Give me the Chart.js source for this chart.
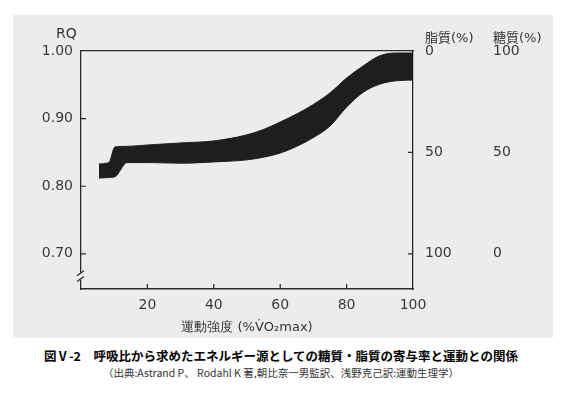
<!DOCTYPE html>
<html>
<head>
<meta charset="utf-8">
<script src="https://cdn.jsdelivr.net/npm/chart.js@4/dist/chart.umd.min.js"></script>
<style>
    body { margin: 0; width: 562px; height: 402px; background: #fff; position: relative; overflow: hidden;
           font-family: "DejaVu Sans", "Noto Sans CJK JP", sans-serif; }
    #panel { position: absolute; left: 13px; top: 15px; width: 540px; height: 323px; background: #ececec; }
    #panel canvas { position: absolute; left: 0; top: 0; }
    .lbl { position: absolute; font-size: 13px; color: #333; white-space: nowrap; line-height: 1; }
    #title { position: absolute; left: 0; width: 562px; top: 350px; text-align: center; line-height: 1;
             font-family: "Noto Sans CJK JP", sans-serif; font-weight: bold; font-size: 12.5px; color: #000; }
    #source { position: absolute; left: 0; width: 562px; top: 368px; text-align: center; line-height: 1;
              font-family: "Noto Sans CJK JP", sans-serif; font-size: 10.5px; color: #333; }
</style>
</head>
<body>
<div id="panel">
    <canvas id="rqChart" width="540" height="323"></canvas>
</div>
<div class="lbl" style="left:56px; top:26px; font-size:14px;">RQ</div>
<div class="lbl" style="left:425px; top:31px;">脂質(%)</div>
<div class="lbl" style="left:493px; top:31px;">糖質(%)</div>
<div id="title">図Ⅴ-2　呼吸比から求めたエネルギー源としての糖質・脂質の寄与率と運動との関係</div>
<div id="source">（出典:Astrand P、 Rodahl K 著,朝比奈一男監訳、浅野克己訳:運動生理学）</div>

<script>
// 運動強度 (%VO2max)
const intensity = [5.4, 8.4, 10.2, 13.9, 20, 30, 40, 50, 55, 60, 65, 70, 75, 80, 85, 90, 95, 100];
// RQ の帯 (上端・下端)
const rqUpper = [0.833, 0.835, 0.858, 0.859, 0.861, 0.864, 0.867, 0.876, 0.884, 0.895, 0.907, 0.921, 0.938, 0.960, 0.978, 0.993, 0.997, 0.997];
const rqLower = [0.812, 0.813, 0.814, 0.835, 0.835, 0.834, 0.836, 0.839, 0.843, 0.849, 0.859, 0.872, 0.889, 0.917, 0.939, 0.951, 0.956, 0.957];

const intensityTicks = [20, 40, 60, 80, 100];
const rqTicks = [0.70, 0.80, 0.90, 1.00];
const fatTicks = [0, 50, 100];
const sugarTicks = [100, 50, 0];

const rqMin = 0.648;
const rqMax = 1.00;
// RQ 1.00 = 脂質 0%, RQ 0.70 = 脂質 100%
const fatOf = rq => (1 - rq) / 0.3 * 100;

const axisColor = '#2a2a2a';
const tickFont = { family: 'DejaVu Sans', size: 14 };
const bandColor = '#1e1e1e';

const setTicks = vals => s => { s.ticks = vals.map(v => ({ value: v })); };

const innerTicks = {
    id: 'innerTicks',
    afterDraw(chart) {
        const { ctx, chartArea: a, scales } = chart;
        ctx.save();
        ctx.strokeStyle = axisColor;
        ctx.lineWidth = 1.2;
        ctx.beginPath();
        intensityTicks.slice(0, -1).forEach(v => {
            const px = scales.x.getPixelForValue(v);
            ctx.moveTo(px, a.bottom);
            ctx.lineTo(px, a.bottom - 5);
        });
        rqTicks.slice(0, -1).forEach(v => {
            const py = scales.y.getPixelForValue(v);
            ctx.moveTo(a.left, py);
            ctx.lineTo(a.left + 5, py);
        });
        [50, 100].forEach(v => {
            const py = scales.y2.getPixelForValue(v);
            ctx.moveTo(a.right, py);
            ctx.lineTo(a.right - 5, py);
        });
        ctx.stroke();

        // 軸の省略記号
        const y1 = scales.y.getPixelForValue(0.672);
        const y2 = scales.y.getPixelForValue(0.662);
        ctx.fillStyle = '#ececec';
        ctx.fillRect(a.left - 2, y1, 4, y2 - y1);
        ctx.beginPath();
        ctx.moveTo(a.left - 4, y1 + 3);
        ctx.lineTo(a.left + 3, y1 - 2);
        ctx.moveTo(a.left - 4, y2 + 2);
        ctx.lineTo(a.left + 3, y2 - 3);
        ctx.stroke();
        ctx.restore();
    }
};

new Chart(document.getElementById('rqChart'), {
    type: 'line',
    data: {
        datasets: [
            {
                label: 'RQ上限',
                data: intensity.map((x, i) => ({ x: x, y: rqUpper[i] })),
                borderColor: bandColor,
                backgroundColor: bandColor,
                borderWidth: 1,
                pointRadius: 0,
                cubicInterpolationMode: 'monotone',
                fill: '+1'
            },
            {
                label: 'RQ下限',
                data: intensity.map((x, i) => ({ x: x, y: rqLower[i] })),
                borderColor: bandColor,
                borderWidth: 1,
                pointRadius: 0,
                cubicInterpolationMode: 'monotone',
                fill: false
            }
        ]
    },
    options: {
        responsive: false,
        animation: false,
        devicePixelRatio: 1,
        layout: { padding: { top: 36, left: 0, right: 0, bottom: 0 } },
        plugins: { legend: { display: false }, tooltip: { enabled: false } },
        scales: {
            x: {
                type: 'linear',
                position: 'bottom',
                min: 0,
                max: 100,
                afterBuildTicks: setTicks(intensityTicks),
                afterFit: s => { s.height = 49; },
                grid: { display: false, drawTicks: false },
                border: { color: axisColor, width: 1.5 },
                ticks: { font: tickFont, color: '#3a3a3a', padding: 8 },
                title: {
                    display: true,
                    text: '運動強度 (%V̇O₂max)',
                    font: { family: 'DejaVu Sans', size: 13 },
                    color: '#333',
                    padding: { top: 0, bottom: 3 }
                }
            },
            x2: {
                type: 'linear',
                position: 'top',
                min: 0,
                max: 100,
                afterFit: s => { s.height = 0; },
                grid: { display: false, drawTicks: false },
                border: { color: axisColor, width: 1.3 },
                ticks: { display: false }
            },
            y: {
                position: 'left',
                min: rqMin,
                max: rqMax,
                afterBuildTicks: setTicks(rqTicks),
                afterFit: s => { s.width = 68; },
                grid: { display: false, drawTicks: false },
                border: { color: axisColor, width: 1.3 },
                ticks: { font: tickFont, color: '#3a3a3a', padding: 8, callback: v => v.toFixed(2) }
            },
            y2: {
                position: 'right',
                reverse: true,
                min: fatOf(rqMax),
                max: fatOf(rqMin),
                afterBuildTicks: setTicks(fatTicks),
                afterFit: s => { s.width = 60; },
                grid: { display: false, drawTicks: false },
                border: { color: axisColor, width: 1.3 },
                ticks: { font: tickFont, color: '#3a3a3a', padding: 12 }
            },
            y3: {
                position: 'right',
                min: 100 - fatOf(rqMin),
                max: 100 - fatOf(rqMax),
                afterBuildTicks: setTicks(sugarTicks),
                afterFit: s => { s.width = 80; },
                grid: { display: false, drawTicks: false },
                border: { display: false },
                ticks: { font: tickFont, color: '#3a3a3a', padding: 20 }
            }
        }
    },
    plugins: [innerTicks]
});
</script>
</body>
</html>
